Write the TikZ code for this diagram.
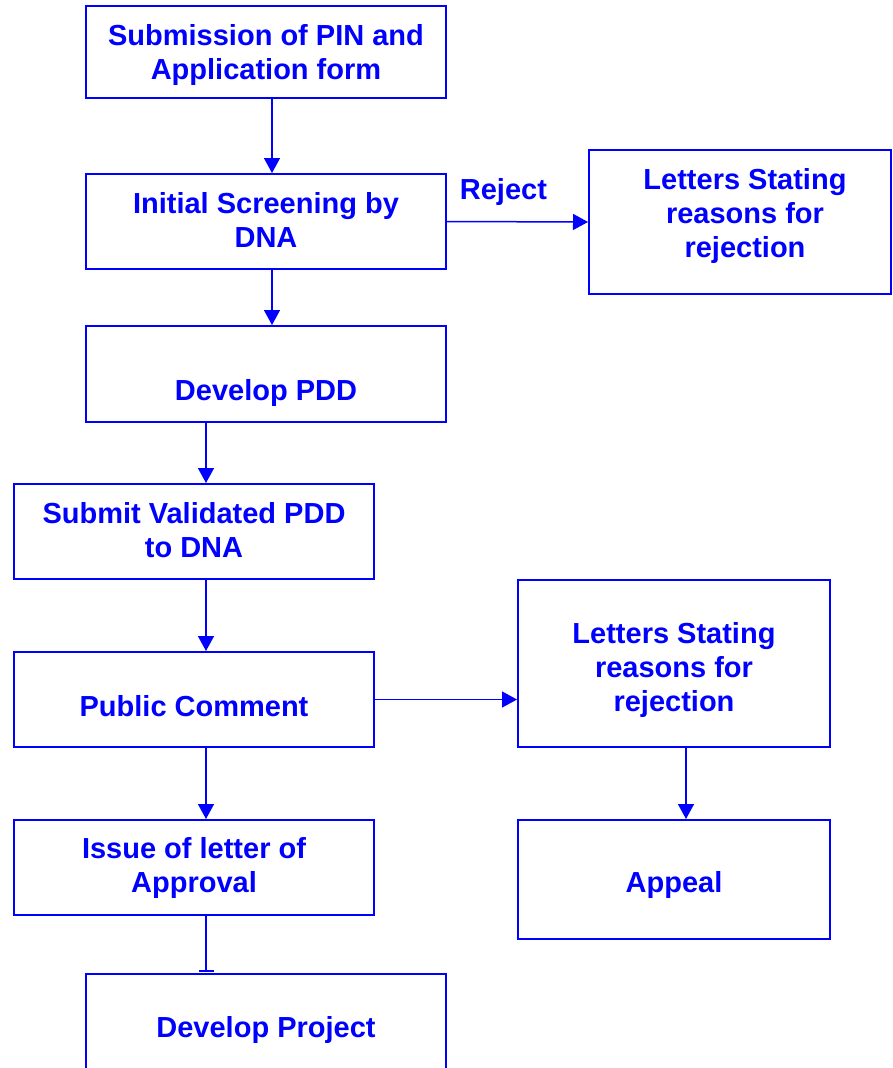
\documentclass[tikz,border=0pt]{standalone}
\usepackage{fontspec}
\setmainfont{Liberation Sans}
\usetikzlibrary{arrows.meta}

\tikzset{
  stepbox/.style={draw=blue, line width=2pt, minimum width=#1},
  stepbox/.default=360pt,
  boxtext/.style={text=blue, align=center, font=\bfseries\fontsize{29}{34}\selectfont},
  flow/.style={blue, line width=1.5pt, -{Triangle[length=15pt,width=16pt]}}
}

\begin{document}
\begin{tikzpicture}[x=1pt,y=-1pt]
      \useasboundingbox (0,0) rectangle (893,1068);
      % boxes
      \node[stepbox, minimum height=92pt] (sub) at (266,52) {};
      \node[stepbox, minimum height=95pt] (screen) at (266,221.5) {};
      \node[stepbox=302pt, minimum height=144pt] (rejA) at (740,222) {};
      \node[stepbox, minimum height=96pt] (pdd) at (266,374) {};
      \node[stepbox, minimum height=95pt] (submit) at (194,531.5) {};
      \node[stepbox, minimum height=95pt] (public) at (194,699.5) {};
      \node[stepbox=312pt, minimum height=167pt] (rejB) at (674,663.5) {};
      \node[stepbox, minimum height=95pt] (issue) at (194,867.5) {};
      \node[stepbox=312pt, minimum height=119pt] (appeal) at (674,879.5) {};
      \node[stepbox, minimum height=96pt] (project) at (266,1022) {};
      % texts
      \node[boxtext] (sub-t) at (266,55) {Submission of PIN and\\Application form};
      \node[boxtext] (screen-t) at (266,220) {Initial Screening by\\DNA};
      \node[boxtext] (rejA-t) at (745,216) {Letters Stating\\reasons for\\rejection};
      \node[boxtext] (pdd-t) at (266,393) {Develop PDD};
      \node[boxtext] (submit-t) at (194,530) {Submit Validated PDD\\to DNA};
      \node[boxtext] (public-t) at (194,706) {Public Comment};
      \node[boxtext] (rejB-t) at (674,670) {Letters Stating\\reasons for\\rejection};
      \node[boxtext] (issue-t) at (194,868) {Issue of letter of\\Approval};
      \node[boxtext] (appeal-t) at (674,885) {Appeal};
      \node[boxtext] (project-t) at (266,1030) {Develop Project};
      % connectors
      \draw[flow] ([xshift=6pt]sub.south) -- ([xshift=6pt]screen.north);
      \draw[flow] ([xshift=6pt]screen.south) -- ([xshift=6pt]pdd.north);
      \draw[flow] (screen.east) -- node[boxtext, pos=0.4, above=12pt] (rej) {Reject} (rejA.west);
      \draw[flow] ([xshift=-60pt]pdd.south) -- ([xshift=-60pt]pdd.south |- submit.north);
      \draw[flow] ([xshift=12pt]submit.south) -- ([xshift=12pt]public.north);
      \draw[flow] (public.east) -- (public.east -| rejB.west);
      \draw[flow] ([xshift=12pt]public.south) -- ([xshift=12pt]issue.north);
      \draw[flow] ([xshift=12pt]rejB.south) -- ([xshift=12pt]appeal.north);
      \draw[blue, line width=1.5pt, -{Bar[width=15pt,line width=2pt]}, shorten >=1pt]
        ([xshift=12pt]issue.south) -- ([xshift=-60pt]project.north);
    \end{tikzpicture}
\end{document}
